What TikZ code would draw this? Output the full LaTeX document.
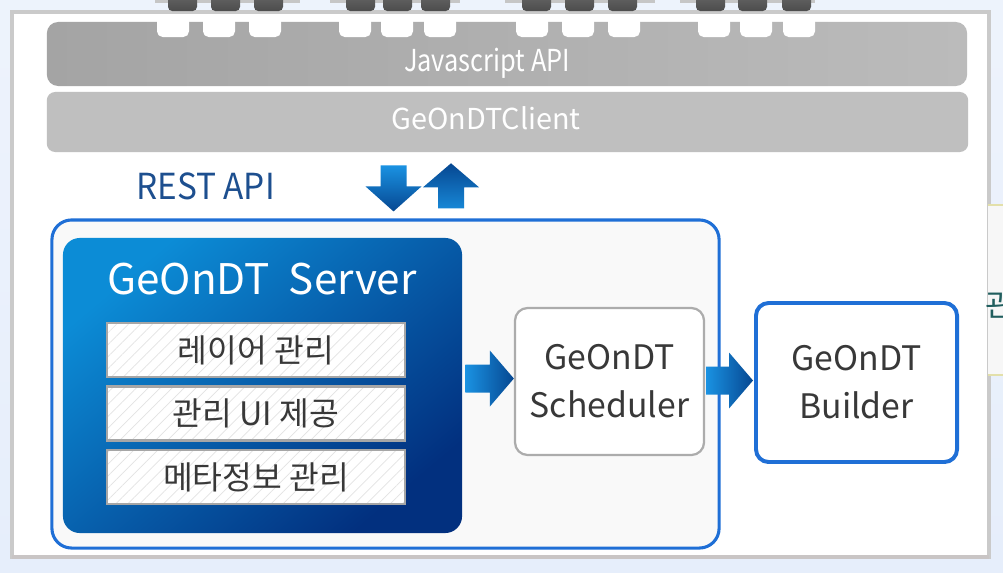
\documentclass[tikz,border=0pt]{standalone}
\usepackage{fontspec}
\setmainfont{Noto Sans CJK KR}
\newfontfamily\narrowfont{Noto Sans CJK KR}[FakeStretch=0.84]
\newfontfamily\restfont{Noto Sans CJK KR}[FakeStretch=0.93]
\usetikzlibrary{calc,patterns.meta,positioning}

\definecolor{bgblue}{HTML}{E6EEFB}
\definecolor{panelgray}{HTML}{CACACA}
\definecolor{jsleft}{HTML}{A4A4A4}
\definecolor{jsright}{HTML}{BBBBBB}
\definecolor{clientgray}{HTML}{BFBFBF}
\definecolor{srvlight}{HTML}{0C8CD6}
\definecolor{srvmid}{HTML}{0760B2}
\definecolor{srvdark}{HTML}{02307F}
\definecolor{frameblue}{HTML}{1F6FD6}
\definecolor{arrlight}{HTML}{1A92E2}
\definecolor{arrdark}{HTML}{064791}
\definecolor{restblue}{HTML}{1D4F8F}
\definecolor{boxtext}{HTML}{383838}
\definecolor{cutteal}{HTML}{205E5E}
\definecolor{edgegray}{HTML}{C9C5C5}

\newcommand{\harrow}[2]{%
  \shade[left color=arrlight, right color=arrdark]
    ($(#1)+(0,-14)$) -- ($(#2)+(-24,-14)$) -- ($(#2)+(-24,-28)$) -- (#2)
    -- ($(#2)+(-24,28)$) -- ($(#2)+(-24,14)$) -- ($(#1)+(0,14)$) -- cycle;}
\newcommand{\varrow}[4]{%
  \shade[#4]
    ($(#1)+(-13,0)$) -- ($(#2)-(13,#3)$) -- ($(#2)-(28,#3)$) -- (#2)
    -- ($(#2)-(-28,#3)$) -- ($(#2)-(-13,#3)$) -- ($(#1)+(13,0)$) -- cycle;}

\begin{document}
\begin{tikzpicture}[
  x=0.025cm, y=-0.025cm,
  bar/.style={rectangle, rounded corners=8pt, inner sep=0pt},
  bartext/.style={text=white, font=\narrowfont\fontsize{21.5}{24}\selectfont},
  itembox/.style={
    rectangle,
    draw=gray!70,
    line width=2pt,
    preaction={fill=white},
    pattern={Lines[angle=45,distance=6pt,line width=0.5pt]},
    pattern color=gray!22,
    minimum width=7.45cm,
    minimum height=1.35cm,
    text=boxtext,
    font=\fontsize{23}{26}\selectfont
  },
  unitbox/.style={
    rectangle,
    rounded corners=9pt,
    fill=white,
    align=center,
    text=boxtext,
    font=\fontsize{24}{34}\selectfont
  }
]
\useasboundingbox (0,0) rectangle (1003,572);
\clip (0,0) rectangle (1003,572);
\shade[top color=bgblue!70!white, bottom color=bgblue] (0,0) rectangle (1003,572);
\filldraw[fill=white, draw=panelgray, line width=2.8pt] (12,12) rectangle (989,557);
\draw[edgegray, line width=2.5pt] (12,557) -- (989,557);

\foreach \gx/\gw in {155/145, 330/130, 505/150, 680/135}
  \fill[gray!45] (\gx,0) rectangle ++(\gw,3);
\foreach \dx in {168,211,254,346,383,421,522,565,608,696,738,782}
  \shade[top color=gray!80!black, bottom color=gray!60!black, rounded corners=3pt] (\dx,-6) rectangle ++(29,17);

\node[bar, left color=jsleft, right color=jsright, minimum width=23cm, minimum height=1.6cm] (jsapi) at (507,54) {};
\foreach \wx in {157,203,249,339,381,424,516,562,608,698,740,783}
  \fill[white, rounded corners=4pt] (\wx,16) rectangle ++(32,21);
\node[bartext] (jstext) at (487,63) {Javascript API};

\node[bar, rounded corners=6pt, fill=clientgray, minimum width=23.03cm, minimum height=1.5cm] (client) at (507.5,122) {};
\node[bartext, font=\fontsize{20.5}{24}\selectfont] (clienttext) at (486,118) {GeOnDTClient};

\node[text=restblue, font=\restfont\fontsize{25.5}{28}\selectfont] (rest) at (205.5,186) {REST API};

\node[rectangle, rounded corners=14pt, fill=gray!5, draw=frameblue, line width=2.2pt,
  minimum width=16.675cm, minimum height=8.2cm] (container) at (385.5,384) {};

\node[rectangle, rounded corners=12pt, top color=srvlight, middle color=srvmid, bottom color=srvdark, shading angle=40,
  minimum width=9.975cm, minimum height=7.375cm] (server) at (262.5,385.5) {};
\node[text=white, font=\fontsize{30}{34}\selectfont] (srvtitle) at (262,279) {GeOnDT\ \ Server};
\node[itembox] (layer) at (256,350) {레이어 관리};
\node[itembox] (adminui) at (256,413.5) {관리 UI 제공};
\node[itembox] (meta) at (256,477) {메타정보 관리};

\node[unitbox, draw=gray!65, line width=1.6pt, minimum width=4.725cm, minimum height=3.675cm] (sched) at (609.5,381.5) {GeOnDT\\Scheduler};
\node[unitbox, draw=frameblue, line width=2.8pt, minimum width=5.025cm, minimum height=3.975cm] (builder) at (856.5,382.5) {GeOnDT\\Builder};

\fill[gray!6] (988,205) rectangle (1010,375);
\draw[olive!25, line width=1.5pt] (988,205) -- (1010,205) (988,375) -- (1010,375);
\node[anchor=west, text=cutteal, font=\fontsize{22}{26}\selectfont] (cutlabel) at (981,305) {관리};

\coordinate (dntail) at ($(client.south)+(-114,13)$);
\coordinate (dntip) at ($(container.north -| dntail)+(0,-7)$);
\coordinate (uptail) at ($(container.north)+(65.5,-10)$);
\coordinate (uptip) at ($(client.south -| uptail)+(0,11)$);
\varrow{dntail}{dntip}{25}{top color=arrlight, bottom color=arrdark}
\varrow{uptail}{uptip}{-24}{top color=arrdark, bottom color=arrlight!85!arrdark}

\coordinate (srvtail) at ($(server.east |- sched.west)+(3,-3)$);
\coordinate (schedtip) at ($(sched.west)+(0,-3)$);
\harrow{srvtail}{schedtip}
\coordinate (schedtail) at ($(sched.east)+(1,-1)$);
\coordinate (buildtip) at ($(builder.west)+(-1,-2)$);
\harrow{schedtail}{buildtip}
\end{tikzpicture}
\end{document}
